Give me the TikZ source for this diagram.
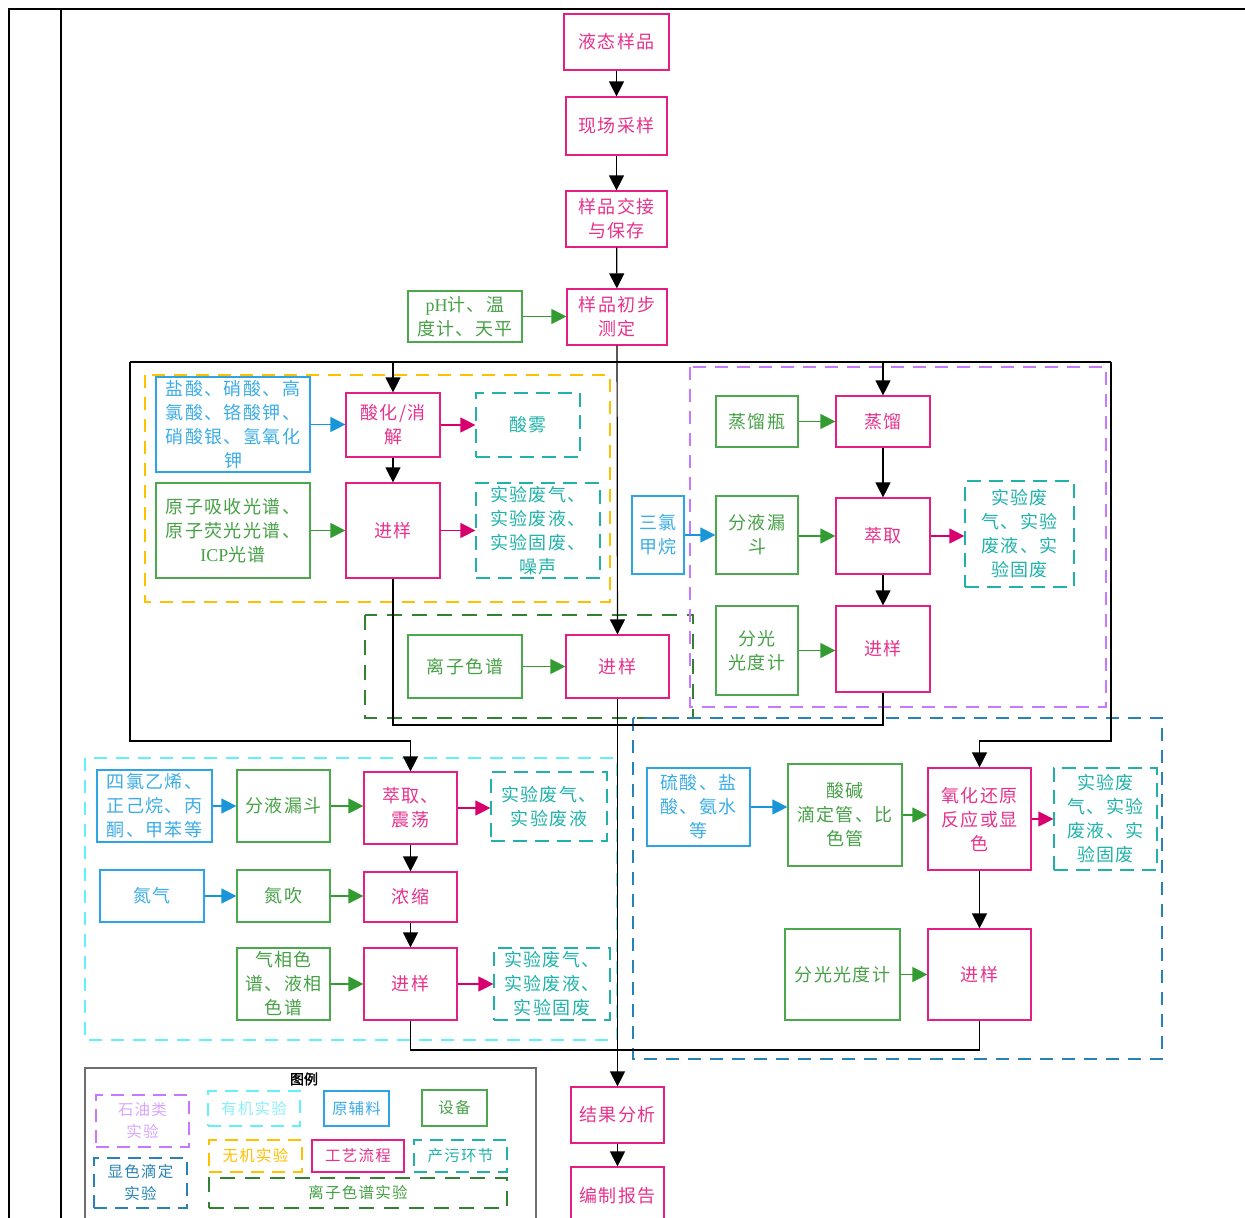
\documentclass[tikz,border=0pt]{standalone}
\usepackage{fontspec}
\setmainfont[LetterSpace=8]{Noto Sans CJK SC}
\newfontfamily\lat{Liberation Serif}
\newfontfamily\bfcjk[FakeBold=2]{Noto Sans CJK SC}
\usetikzlibrary{arrows.meta}
\definecolor{procC}{RGB}{228,30,130}
\definecolor{procT}{RGB}{230,50,140}
\definecolor{eqC}{RGB}{76,168,76}
\definecolor{eqT}{RGB}{70,160,70}
\definecolor{eqA}{RGB}{50,155,50}
\definecolor{rawC}{RGB}{45,165,228}
\definecolor{rawT}{RGB}{60,172,230}
\definecolor{rawA}{RGB}{25,150,215}
\definecolor{polC}{RGB}{32,178,170}
\definecolor{magA}{RGB}{215,0,110}
\definecolor{orgC}{RGB}{255,192,0}
\definecolor{purC}{RGB}{200,120,255}
\definecolor{cyC}{RGB}{100,240,250}
\definecolor{ionC}{RGB}{50,130,50}
\definecolor{titC}{RGB}{40,130,180}
\definecolor{legG}{RGB}{110,110,110}
\definecolor{lgPurT}{RGB}{215,165,255}
\definecolor{lgCyT}{RGB}{140,238,248}
\newcommand\bx[7]{\node[#1, minimum width={(#5-#3)*1pt}, minimum height={(#6-#4)*1pt}] (#2) at ({(#3+#5)/2},{(#4+#6)/2}) {#7};}
\begin{document}
\begin{tikzpicture}[x=1pt,y=-1pt,
  base/.style={draw, line width=1.2pt, inner sep=0pt, align=center, font=\fontsize{18}{24}\selectfont},
  proc/.style={base, draw=procC, text=procT},
  equip/.style={base, draw=eqC, text=eqT},
  raw/.style={base, draw=rawC, text=rawT},
  poll/.style={base, draw=polC, text=polC, dash pattern=on 14pt off 8pt},
  region/.style={line width=1.2pt},
  lgd/.style={font=\fontsize{15.5}{22}\selectfont},
  blk/.style={draw=black, line width=1.2pt},
  tip/.style={-{Triangle[length=15pt,width=15pt]}},
  blkA/.style={blk, tip},
  gA/.style={draw=eqA, line width=1.2pt, tip},
  bA/.style={draw=rawA, line width=1.2pt, tip},
  mA/.style={draw=magA, line width=1.2pt, tip}]
\useasboundingbox (0,0) rectangle (1245,1218);
% table frame
\draw[line width=2.4pt] (9,1220) -- (9,9) -- (1246,9);
\draw[line width=2.4pt] (61,9) -- (61,1220);
% regions
\draw[region, draw=orgC, dash pattern=on 13pt off 9pt] (145,375) rectangle (610,602);
\draw[region, draw=ionC, dash pattern=on 15pt off 10pt] (365,615) rectangle (693,718);
\draw[region, draw=purC, dash pattern=on 13pt off 9pt] (690,367) rectangle (1106,707);
\draw[region, draw=cyC, dash pattern=on 13pt off 9pt] (85,758) rectangle (617,1040);
\draw[region, draw=titC, dash pattern=on 13pt off 9pt] (633,718) rectangle (1162,1059);
% main column
\bx{proc}{liquid}{564}{14}{669}{70}{液态样品}
\bx{proc}{field}{566}{97}{667}{155}{现场采样}
\bx{proc}{hand}{566}{191}{667}{247}{样品交接\\与保存}
\bx{proc}{prelim}{567}{289}{667}{345}{样品初步\\测定}
\bx{equip}{phm}{408}{291}{522}{342}{{\lat pH}计、温\\度计、天平}
% inorganic
\bx{raw}{acidraw}{156}{377}{310}{472}{盐酸、硝酸、高\\氯酸、铬酸钾、\\硝酸银、氢氧化\\钾}
\bx{proc}{acid}{346}{393}{440}{457}{酸化/消\\解}
\bx{poll}{mist}{476}{393}{580}{457}{酸雾}
\bx{equip}{aas}{156}{483}{310}{578}{原子吸收光谱、\\原子荧光光谱、\\{\lat ICP}光谱}
\bx{proc}{inIn}{346}{483}{440}{578}{进样}
\bx{poll}{inPol}{476}{483}{600}{578}{实验废气、\\实验废液、\\实验固废、\\噪声}
% ion
\bx{equip}{ionEq}{408}{635}{522}{698}{离子色谱}
\bx{proc}{ionIn}{566}{635}{669}{698}{进样}
% petroleum
\bx{equip}{distEq}{716}{396}{798}{447}{蒸馏瓶}
\bx{proc}{dist}{836}{396}{930}{447}{蒸馏}
\bx{raw}{chl}{632}{496}{684}{574}{三氯\\甲烷}
\bx{equip}{sepP}{716}{496}{798}{574}{分液漏\\斗}
\bx{proc}{ext}{836}{498}{930}{574}{萃取}
\bx{poll}{petPol}{965}{481}{1074}{587}{实验废\\气、实验\\废液、实\\验固废}
\bx{equip}{specP}{716}{606}{798}{695}{分光\\光度计}
\bx{proc}{petIn}{836}{606}{930}{692}{进样}
% organic
\bx{raw}{orgRaw}{97}{770}{212}{842}{四氯乙烯、\\正己烷、丙\\酮、甲苯等}
\bx{equip}{sepO}{237}{770}{330}{842}{分液漏斗}
\bx{proc}{shake}{364}{772}{457}{844}{萃取、\\震荡}
\bx{poll}{orgPol1}{491}{772}{607}{841}{实验废气、\\实验废液}
\bx{raw}{n2}{100}{870}{204}{922}{氮气}
\bx{equip}{n2b}{237}{870}{330}{922}{氮吹}
\bx{proc}{conc}{364}{872}{457}{922}{浓缩}
\bx{equip}{gcEq}{237}{948}{330}{1020}{气相色\\谱、液相\\色谱}
\bx{proc}{orgIn}{364}{948}{457}{1020}{进样}
\bx{poll}{orgPol2}{494}{948}{610}{1020}{实验废气、\\实验废液、\\实验固废}
% titration
\bx{raw}{titRaw}{647}{768}{750}{846}{硫酸、盐\\酸、氨水\\等}
\bx{equip}{titEq}{788}{764}{902}{866}{酸碱\\滴定管、比\\色管}
\bx{proc}{redox}{928}{768}{1031}{870}{氧化还原\\反应或显\\色}
\bx{poll}{titPol}{1054}{768}{1157}{870}{实验废\\气、实验\\废液、实\\验固废}
\bx{equip}{specT}{785}{929}{900}{1020}{分光光度计}
\bx{proc}{titIn}{928}{929}{1031}{1020}{进样}
% bottom
\bx{proc}{result}{571}{1087}{664}{1143}{结果分析}
\bx{proc}{report}{571}{1167}{664}{1225}{编制报告}
% main black connectors
\draw[blkA] (liquid) -- (field);
\draw[blkA] (field) -- (hand);
\draw[blkA] (hand) -- (prelim);
\draw[gA] (phm) -- (phm -| prelim.west);
\coordinate (jL) at (130,362);
\coordinate (jR) at (1111,362);
\coordinate (yB) at (0,741);
\coordinate (m1) at (0,725);
\coordinate (m2) at (0,1050);
\draw[blk] (jL) -- (jR);
\draw[blkA] (prelim) -- (ionIn);
\draw[blkA] (acid.north |- jL) -- (acid);
\draw[blkA] (dist.north |- jL) -- (dist);
\draw[blkA] (jL) |- (shake.north |- yB) -- (shake);
\draw[blkA] (jR) |- (redox.north |- yB) -- (redox);
\draw[blkA] (acid) -- (inIn);
\draw[blkA] (dist) -- (ext);
\draw[blkA] (ext) -- (petIn);
\draw[blkA] (shake) -- (conc);
\draw[blkA] (conc) -- (orgIn);
\draw[blkA] (redox) -- (titIn);
\draw[blk] (inIn.south) |- (ionIn.south |- m1);
\draw[blk] (petIn.south) |- (ionIn.south |- m1);
\draw[blkA] (ionIn) -- (result);
\draw[blk] (orgIn.south) |- (result.north |- m2);
\draw[blk] (titIn.south) |- (result.north |- m2);
\draw[blkA] (result) -- (report);
% coloured arrows
\draw[bA] (acidraw) -- (acidraw -| acid.west);
\draw[mA] (acid) -- (acid -| mist.west);
\draw[gA] (aas) -- (aas -| inIn.west);
\draw[mA] (inIn) -- (inIn -| inPol.west);
\draw[gA] (ionEq) -- (ionEq -| ionIn.west);
\draw[gA] (distEq) -- (distEq -| dist.west);
\draw[bA] (chl) -- (chl -| sepP.west);
\draw[gA] (sepP.east |- ext) -- (ext);
\draw[mA] (ext) -- (ext -| petPol.west);
\draw[gA] (specP) -- (specP -| petIn.west);
\draw[bA] (orgRaw) -- (orgRaw -| sepO.west);
\draw[gA] (sepO) -- (sepO -| shake.west);
\draw[mA] (shake) -- (shake -| orgPol1.west);
\draw[bA] (n2) -- (n2 -| n2b.west);
\draw[gA] (n2b) -- (n2b -| conc.west);
\draw[gA] (gcEq) -- (gcEq -| orgIn.west);
\draw[mA] (orgIn) -- (orgIn -| orgPol2.west);
\draw[bA] (titRaw) -- (titRaw -| titEq.west);
\draw[gA] (titEq) -- (titEq -| redox.west);
\draw[mA] (redox) -- (redox -| titPol.west);
\draw[gA] (specT) -- (specT -| titIn.west);
% legend
\draw[draw=legG, line width=1.2pt] (85,1222) -- (85,1068) -- (536,1068) -- (536,1222);
\node[font=\fontsize{14}{16}\selectfont\bfcjk] (lgT) at (304,1079) {图例};
\bx{base, lgd, draw=purC, text=lgPurT, dash pattern=on 13pt off 8pt}{lg1}{96}{1095}{189}{1147}{石油类\\实验}
\bx{base, lgd, draw=cyC, text=lgCyT, dash pattern=on 13pt off 8pt}{lg2}{208}{1091}{300}{1126}{有机实验}
\bx{raw, lgd}{lg3}{324}{1091}{389}{1126}{原辅料}
\bx{equip, lgd}{lg4}{422}{1090}{487}{1126}{设备}
\bx{base, lgd, draw=titC, text=titC, dash pattern=on 13pt off 8pt}{lg5}{94}{1158}{187}{1208}{显色滴定\\实验}
\bx{base, lgd, draw=orgC, text=orgC, dash pattern=on 13pt off 8pt}{lg6}{209}{1140}{302}{1172}{无机实验}
\bx{proc, lgd}{lg7}{312}{1140}{404}{1172}{工艺流程}
\bx{poll, lgd, dash pattern=on 13pt off 8pt}{lg8}{414}{1140}{507}{1172}{产污环节}
\bx{base, lgd, draw=ionC, text=eqT, dash pattern=on 15pt off 10pt}{lg9}{209}{1178}{507}{1208}{离子色谱实验}
\end{tikzpicture}
\end{document}
